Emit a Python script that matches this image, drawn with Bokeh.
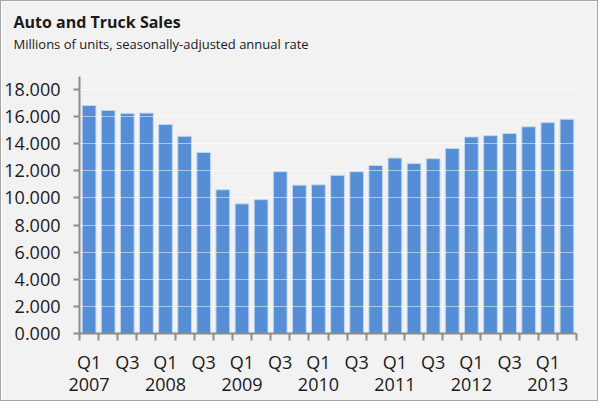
from bokeh.plotting import figure
from bokeh.models import (Range1d, FixedTicker, NumeralTickFormatter, LinearAxis,
                          Title, ColumnDataSource)
from bokeh.embed import file_html
from bokeh.resources import INLINE

# ---- data ----
years = [2007, 2007, 2007, 2007, 2008, 2008, 2008, 2008, 2009, 2009, 2009, 2009,
         2010, 2010, 2010, 2010, 2011, 2011, 2011, 2011, 2012, 2012, 2012, 2012,
         2013, 2013]
quarters = ["Q1", "Q2", "Q3", "Q4"] * 6 + ["Q1", "Q2"]
sales = [16.81, 16.45, 16.23, 16.25, 15.41, 14.54, 13.35, 10.60, 9.56, 9.87,
         11.93, 10.94, 10.96, 11.66, 11.93, 12.39, 12.94, 12.53, 12.89, 13.64,
         14.49, 14.59, 14.75, 15.24, 15.55, 15.80]
y_ticks = [0, 2, 4, 6, 8, 10, 12, 14, 16, 18]
title = "Auto and Truck Sales"
subtitle = "Millions of units, seasonally-adjusted annual rate"

FONT = "Open Sans"
BG = "#f2f2f2"
AXIS_C = "#8c8c8c"
TXT = "#1a1a1a"

W, H = 598, 401
ML, MR, MT, MB = 77, 23, 75, 69
n = len(sales)
xc = [i + 0.5 for i in range(n)]
src = ColumnDataSource(dict(x=xc, y=sales))

p = figure(width=W, height=H, output_backend="svg", toolbar_location=None,
           x_range=Range1d(0, n), y_range=Range1d(0, 18.95),
           min_border_left=ML, min_border_right=MR, min_border_bottom=MB,
           min_border_top=MT, x_axis_type=None)
p.background_fill_color = BG
p.border_fill_color = BG
p.outline_line_color = None
p.styles = {"border": "1px solid #a6a6a6"}

p.vbar(x="x", top="y", width=0.72, source=src, fill_color="#558ed5",
       line_color="#c6d7ef", line_width=1)

# spacer between frame and subtitle: an invisible axis with one hidden tick
spacer = LinearAxis(ticker=FixedTicker(ticks=[xc[0]], minor_ticks=[]),
                    major_label_overrides={xc[0]: ""})
spacer.axis_line_color = None
spacer.major_tick_line_color = BG
spacer.major_tick_line_width = 1
spacer.minor_tick_line_color = None
spacer.major_tick_out = 24
spacer.minor_tick_out = 0
spacer.major_tick_in = 0
spacer.major_label_standoff = 0
spacer.major_label_text_color = None
spacer.major_label_text_font_size = "1px"
p.add_layout(spacer, "above")

# titles
p.add_layout(Title(text=subtitle, text_font=FONT, text_font_size="13px",
                   text_font_style="normal", text_color=TXT, align="left",
                   offset=-66, standoff=0), "above")
p.add_layout(Title(text=title, text_font=FONT, text_font_size="16px",
                   text_font_style="bold", text_color=TXT, align="left",
                   offset=-66, standoff=0), "above")

# y axis
ya = p.yaxis[0]
ya.ticker = FixedTicker(ticks=y_ticks, minor_ticks=[])
ya.formatter = NumeralTickFormatter(format="0.000")
ya.axis_line_color = AXIS_C
ya.axis_line_width = 2
ya.major_tick_line_color = AXIS_C
ya.major_tick_line_width = 2
ya.major_tick_out = 6
ya.major_tick_in = 0
ya.major_label_standoff = 13
ya.major_label_text_font = FONT
ya.major_label_text_font_size = "18px"
ya.major_label_text_color = TXT

p.ygrid.ticker = FixedTicker(ticks=y_ticks)
p.ygrid.grid_line_color = "white"
p.ygrid.grid_line_alpha = 0.5
p.ygrid.level = "overlay"

# x axis: quarter labels
lab_pos = [xc[i] for i in range(n) if quarters[i] in ("Q1", "Q3")]
q_over = {xc[i]: quarters[i] for i in range(n) if quarters[i] in ("Q1", "Q3")}
xa = LinearAxis(ticker=FixedTicker(ticks=lab_pos, minor_ticks=list(range(n + 1))),
                major_label_overrides=q_over)
xa.axis_line_color = AXIS_C
xa.axis_line_width = 2
xa.major_tick_out = 0
xa.major_tick_in = 0
xa.minor_tick_out = 7
xa.minor_tick_in = 0
xa.minor_tick_line_color = AXIS_C
xa.minor_tick_line_width = 2
xa.major_label_standoff = 9
xa.major_label_text_font = FONT
xa.major_label_text_font_size = "18px"
xa.major_label_text_color = TXT
p.add_layout(xa, "below")

# x axis: year labels
y_pos = [xc[i] for i in range(n) if quarters[i] == "Q1"]
y_over = {xc[i]: str(years[i]) for i in range(n) if quarters[i] == "Q1"}
xa2 = LinearAxis(ticker=FixedTicker(ticks=y_pos, minor_ticks=[]),
                 major_label_overrides=y_over)
xa2.axis_line_color = None
xa2.major_tick_line_color = None
xa2.minor_tick_line_color = None
xa2.major_tick_out = 0
xa2.major_label_standoff = 1
xa2.major_label_text_font = FONT
xa2.major_label_text_font_size = "18px"
xa2.major_label_text_color = TXT
p.add_layout(xa2, "below")

open("out.html", "w").write(file_html(p, INLINE))
